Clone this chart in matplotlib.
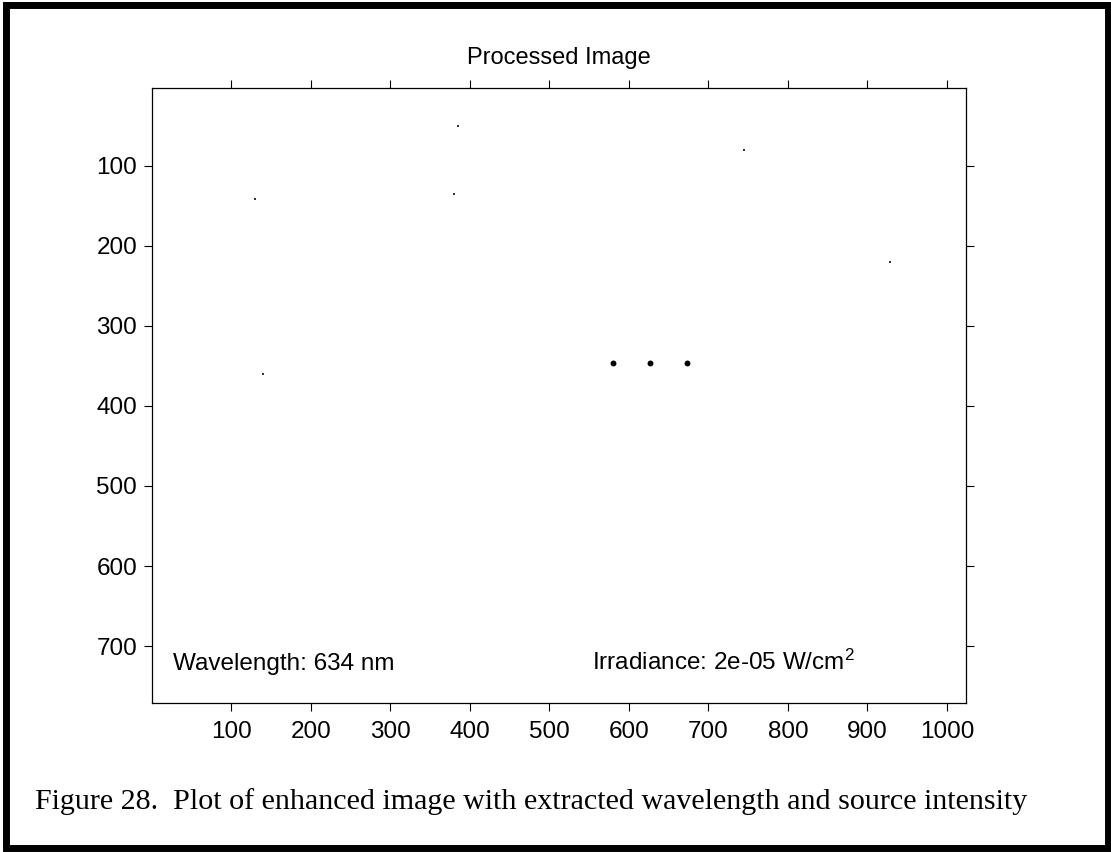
import matplotlib
matplotlib.use("Agg")
import matplotlib.pyplot as plt
from matplotlib.patches import Rectangle

plt.rcParams['font.family'] = ['Liberation Sans', 'DejaVu Sans']
plt.rcParams['mathtext.fontset'] = 'custom'
plt.rcParams['mathtext.rm'] = 'Liberation Sans'
plt.rcParams['mathtext.it'] = 'Liberation Sans'

# ---- data (image pixel coordinates) ----
spot_x = [580, 626, 673]
spot_y = [346, 346, 347]
speck_x = [130, 385, 380, 745, 928, 140]
speck_y = [142, 50, 135, 80, 220, 360]
x_ticks = [100, 200, 300, 400, 500, 600, 700, 800, 900, 1000]
y_ticks = [100, 200, 300, 400, 500, 600, 700]
title = "Processed Image"
wavelength_label = "Wavelength: 634 nm"
irradiance_label = r"Irradiance: 2e-05 W/cm$^{\mathrm{2}}$"
caption = "Figure 28.  Plot of enhanced image with extracted wavelength and source intensity"

W, H = 1111, 852
fig = plt.figure(figsize=(W / 100, H / 100), dpi=100)
fig.patch.set_facecolor('white')

ax_l, ax_r, ax_t, ax_b = 152, 966, 88, 703
ax = fig.add_axes([ax_l / W, 1 - ax_b / H, (ax_r - ax_l) / W, (ax_b - ax_t) / H])

ax.scatter(spot_x, spot_y, s=18, marker='o', color='black', linewidths=0)
ax.scatter(speck_x, speck_y, s=3, marker='s', color='#333333', linewidths=0)

ax.set_xlim(0, 1024)
ax.set_ylim(771, 3)
ax.set_xticks(x_ticks)
ax.set_yticks(y_ticks)
ax.tick_params(axis='both', direction='out', length=5.8, width=0.8,
               labelsize=17.5, colors='black')
ax.tick_params(axis='x', pad=7.0, top=True, labeltop=False)
ax.tick_params(axis='y', pad=5.0, right=True, labelright=False)
for sp in ax.spines.values():
    sp.set_linewidth(0.9)
    sp.set_color('black')

ax.set_title(title, fontsize=17, pad=17)

ax.text(26, 730, wavelength_label, fontsize=17.5, va='baseline', ha='left')
ax.text(553, 730, irradiance_label, fontsize=17.5, va='baseline', ha='left')

fig.text(35 / W, 1 - 809 / H, caption, fontsize=21.6, va='baseline', ha='left',
         family=['Liberation Serif', 'DejaVu Serif'])

fig.patches.append(Rectangle((6 / W, 4 / H), (1108 - 6) / W, (847 - 4) / H,
                             transform=fig.transFigure, fill=False,
                             edgecolor='black', linewidth=5, clip_on=False))

fig.savefig("out.png", dpi=100, facecolor='white')
